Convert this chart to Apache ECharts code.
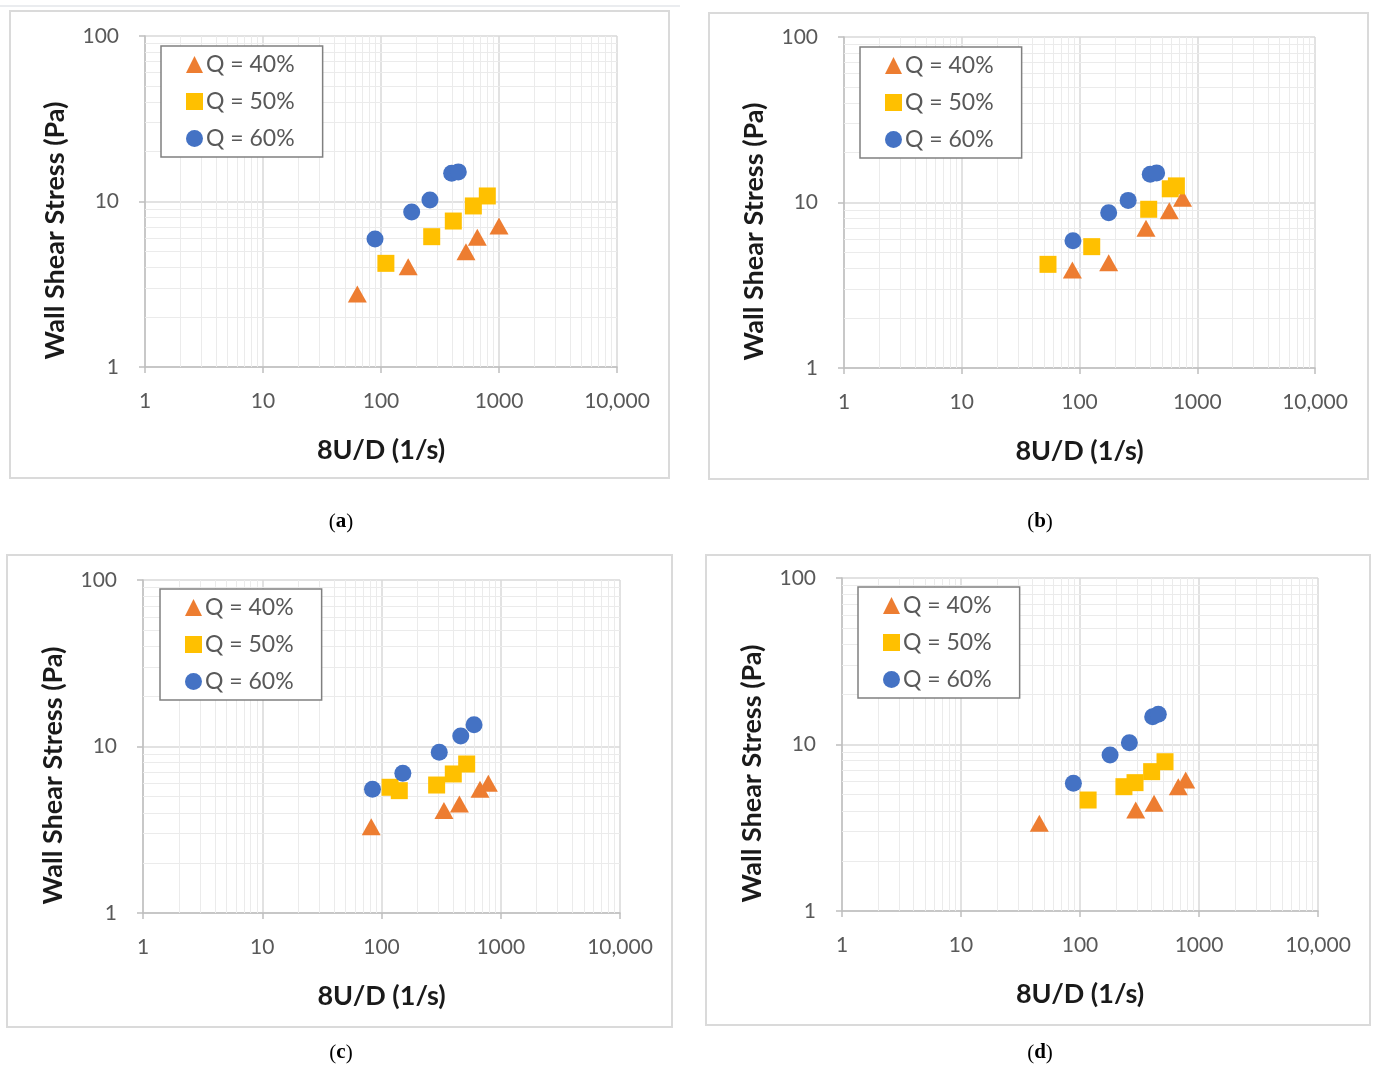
<!DOCTYPE html>
<html>
<head>
<meta charset="utf-8">
<script src="https://cdn.jsdelivr.net/npm/echarts@6/dist/echarts.min.js"></script>
<style>
html,body{margin:0;padding:0;background:#fff;}
#main{width:1375px;height:1068px;}
</style>
</head>
<body>
<div id="main"></div>
<script>
// ---- data (8U/D [1/s], wall shear stress [Pa]) ----
const seriesNames = ['Q = 40%', 'Q = 50%', 'Q = 60%'];
const xTickLabels = ['1', '10', '100', '1000', '10,000'];
const yTickLabels = ['1', '10', '100'];
const panelLabels = ['a', 'b', 'c', 'd'];

const a40 = [[63, 2.76], [170, 4.04], [525, 4.97], [655, 6.08], [1000, 7.11]];
const a50 = [[110, 4.23], [269, 6.13], [410, 7.62], [606, 9.4], [796, 10.8]];
const a60 = [[89, 5.93], [182, 8.64], [260, 10.2], [397, 14.8], [452, 15.1]];

const b40 = [[87, 3.91], [177, 4.33], [367, 6.98], [579, 8.92], [750, 10.6]];
const b50 = [[54, 4.23], [127, 5.41], [387, 9.1], [590, 12.1], [665, 12.6]];
const b60 = [[88, 5.88], [177, 8.68], [259, 10.3], [399, 14.8], [452, 15.1]];

const c40 = [[82, 3.3], [334, 4.12], [450, 4.51], [670, 5.53], [787, 6.01]];
const c50 = [[118, 5.69], [141, 5.43], [290, 5.87], [400, 6.84], [518, 7.85]];
const c60 = [[84, 5.53], [151, 6.9], [305, 9.23], [462, 11.56], [597, 13.5]];

const d40 = [[45.5, 3.36], [294, 4.04], [419, 4.43], [670, 5.58], [773, 6.12]];
const d50 = [[117, 4.64], [234, 5.58], [290, 5.9], [400, 6.87], [518, 7.88]];
const d60 = [[88, 5.85], [179, 8.65], [260, 10.25], [408, 14.7], [455, 15.2]];

const panelData = [[a40, a50, a60], [b40, b50, b60], [c40, c50, c60], [d40, d50, d60]];

// ---- layout / style ----
const grids = [
  {left: 145, top: 36, width: 472, height: 331},
  {left: 844, top: 37, width: 471, height: 331},
  {left: 143, top: 580, width: 477, height: 333},
  {left: 842, top: 578, width: 476, height: 333}
];
const legendPos = [
  {left: 161, top: 46}, {left: 860, top: 47}, {left: 160, top: 589}, {left: 858, top: 587}
];
const boxes = [
  {x: 10, y: 11, w: 659, h: 467}, {x: 709, y: 13, w: 659, h: 466},
  {x: 7, y: 555, w: 665, h: 472}, {x: 706, y: 555, w: 664, h: 470}
];
const captionPos = [[341, 522], [1040, 522], [341, 1053], [1040, 1053]];
const colors = ['#ED7D31', '#FFC000', '#4472C4'];
const symbols = ['triangle', 'rect', 'circle'];
const FONT = 'Lato, "Open Sans", sans-serif';

const minorX = [];
for (let k = 0; k < 4; k++) for (let d = 2; d <= 9; d++) minorX.push(d * Math.pow(10, k));
const minorY = [];
for (let k = 0; k < 2; k++) for (let d = 2; d <= 9; d++) minorY.push(d * Math.pow(10, k));

const option = {
  animation: false,
  backgroundColor: '#fff',
  grid: [], xAxis: [], yAxis: [], series: [], legend: [], graphic: []
};

grids.forEach((g, i) => {
  option.grid.push(Object.assign({containLabel: false}, g));
  option.xAxis.push({
    type: 'log', logBase: 10, min: 1, max: 10000, gridIndex: i,
    name: '8U/D (1/s)', nameLocation: 'middle', nameGap: 70,
    nameTextStyle: {fontFamily: FONT, fontWeight: 'bold', fontSize: 27, color: '#1a1a1a'},
    axisLine: {show: true, lineStyle: {color: '#bfbfbf', width: 1.5}},
    axisTick: {show: true, length: 6, lineStyle: {color: '#bfbfbf', width: 1.5}},
    axisLabel: {
      margin: 24, fontFamily: FONT, fontSize: 21, color: '#595959',
      formatter: v => xTickLabels[Math.round(Math.log10(v))]
    },
    splitLine: {show: true, lineStyle: {color: '#d9d9d9', width: 1.5}}
  });
  option.yAxis.push({
    type: 'log', logBase: 10, min: 1, max: 100, gridIndex: i,
    name: 'Wall Shear Stress (Pa)', nameLocation: 'middle', nameGap: 76,
    nameTextStyle: {fontFamily: FONT, fontWeight: 'bold', fontSize: 27, color: '#1a1a1a',
      padding: [0, 58, 0, 0]},
    axisLine: {show: true, lineStyle: {color: '#bfbfbf', width: 1.5}},
    axisTick: {show: true, length: 6, lineStyle: {color: '#bfbfbf', width: 1.5}},
    axisLabel: {
      margin: 26, fontFamily: FONT, fontSize: 21, color: '#595959',
      formatter: v => yTickLabels[Math.round(Math.log10(v))]
    },
    splitLine: {show: true, lineStyle: {color: '#d9d9d9', width: 1.5}}
  });
  // minor grid lines
  option.series.push({
    name: '_grid' + i, type: 'scatter', xAxisIndex: i, yAxisIndex: i, data: [],
    silent: true, z: 1,
    markLine: {
      z: 1, silent: true, symbol: ['none', 'none'], label: {show: false}, animation: false,
      lineStyle: {color: '#ebebeb', type: 'solid', width: 1},
      emphasis: {disabled: true},
      data: minorX.map(v => ({xAxis: v})).concat(minorY.map(v => ({yAxis: v})))
    }
  });
  panelData[i].forEach((d, s) => {
    option.series.push({
      name: seriesNames[s], type: 'scatter', xAxisIndex: i, yAxisIndex: i,
      data: d, symbol: symbols[s], symbolSize: s === 0 ? [19, 17] : 17, z: 3,
      itemStyle: {color: colors[s], opacity: 1}
    });
  });
  option.legend.push(Object.assign({
    orient: 'vertical', show: true, z: 6,
    data: seriesNames.map((n, s) => ({name: n, icon: symbols[s]})),
    borderColor: '#808080', borderWidth: 1.5, backgroundColor: '#fff',
    padding: [7, 28, 7, 25], itemGap: 14, itemWidth: 17, itemHeight: 17,
    textStyle: {fontFamily: FONT, fontSize: 23, color: '#595959', padding: [0, 0, 0, -2]},
    selectedMode: false
  }, legendPos[i]));
  const b = boxes[i];
  option.graphic.push({
    type: 'rect', shape: {x: b.x, y: b.y, width: b.w, height: b.h},
    style: {fill: null, stroke: '#dadada', lineWidth: 2}, silent: true, z: -1
  });
  option.graphic.push({
    type: 'text', x: captionPos[i][0], y: captionPos[i][1], silent: true,
    style: {
      text: '{p|(}{b|' + panelLabels[i] + '}{p|)}', align: 'center', verticalAlign: 'middle',
      rich: {
        p: {fontFamily: '"Liberation Serif", serif', fontSize: 21, color: '#111'},
        b: {fontFamily: '"Liberation Serif", serif', fontSize: 21, fontWeight: 'bold', color: '#111'}
      }
    }
  });
});
option.graphic.push({
  type: 'line', shape: {x1: 0, y1: 6, x2: 680, y2: 6},
  style: {stroke: '#e3e6ea', lineWidth: 1.5}, silent: true
});

const chart = echarts.init(document.getElementById('main'), null, {renderer: 'canvas'});
chart.setOption(option);
</script>
</body>
</html>
